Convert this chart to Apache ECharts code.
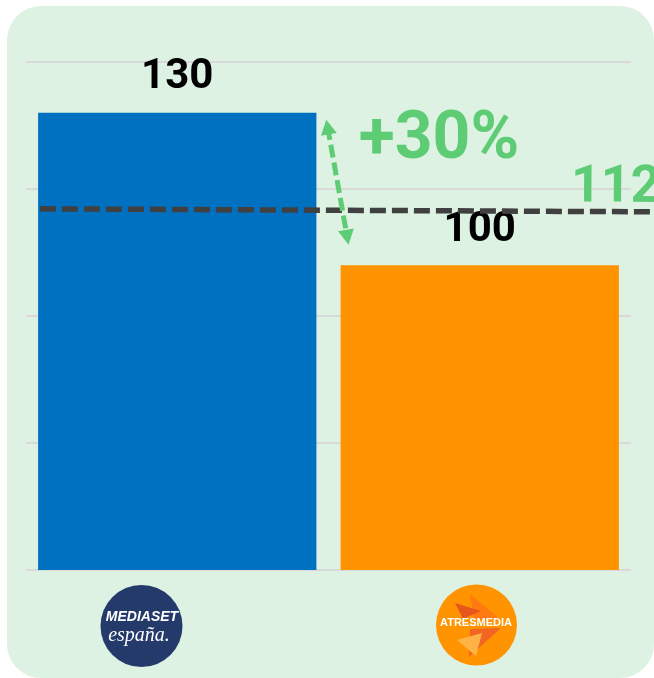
<!DOCTYPE html>
<html><head><meta charset="utf-8">
<script src="https://cdn.jsdelivr.net/npm/echarts@6/dist/echarts.min.js"></script>
<style>
html,body{margin:0;padding:0;background:#fff;width:654px;height:678px;overflow:hidden}
#bg{position:absolute;left:7px;top:6px;width:647px;height:672px;background:#ddf2e2;border-radius:34px}
#chart{position:absolute;left:0;top:0;width:654px;height:678px}
</style></head><body>
<div id="bg"></div><div id="chart"></div>
<script>
// ---- data ----
const categories = ['Mediaset España', 'Atresmedia'];
const values = [130, 100];
const barColors = ['#0070C0', '#FF9400'];
const refLabel = '112';
const refLineStart = [0.046, 111.1];   // helper value-x (category units), y value
const refLineEnd = [2.097, 110.5];
const arrowStart = [0.997, 127.2];
const arrowEnd = [1.062, 105.5];
const growthText = '+30%';
const yMin = 40, yMax = 140;
const gridTicks = [0, 25, 50, 75, 100];

const green = '#5DCC74';
const chart = echarts.init(document.getElementById('chart'), null, {renderer: 'canvas'});
// helper grid: same origin and scale as main grid, but extended past the right edge
const bandPx = (654 - 26 - 23) / 2;
const helperMax = 2.25;
const option = {
  animation: false,
  backgroundColor: 'transparent',
  grid: [
    {left: 26, right: 23, top: 62, bottom: 108, outerBoundsMode: 'none'},
    {left: 26, width: bandPx * helperMax, top: 62, bottom: 108, outerBoundsMode: 'none', containLabel: false}
  ],
  xAxis: [
    {type: 'category', gridIndex: 0, data: categories, axisLine: {show: false}, axisTick: {show: false},
     axisLabel: {show: false}, splitLine: {show: false}},
    {type: 'value', gridIndex: 1, min: 0, max: helperMax, show: false}
  ],
  yAxis: [
    {type: 'value', gridIndex: 0, min: yMin, max: yMax, show: false},
    {type: 'value', gridIndex: 0, min: gridTicks[0], max: gridTicks[gridTicks.length - 1], interval: gridTicks[1] - gridTicks[0],
     axisLine: {show: false}, axisTick: {show: false}, axisLabel: {show: false},
     splitLine: {show: true, lineStyle: {color: '#d9d9d9', width: 2}}},
    {type: 'value', gridIndex: 1, min: yMin, max: yMax, show: false}
  ],
  series: [
    {
      type: 'bar', xAxisIndex: 0, yAxisIndex: 0, barWidth: '92%',
      data: values.map((v, i) => ({value: v, itemStyle: {color: barColors[i]}})),
      label: {show: true, position: 'top', distance: 14, color: '#000', fontSize: 42,
              fontWeight: 'bold', fontFamily: 'Roboto'}
    },
    {
      type: 'line', xAxisIndex: 1, yAxisIndex: 2, data: [], color: green, z: 5,
      markLine: {
        silent: true, animation: false,
        symbol: ['triangle', 'triangle'], symbolSize: [16, 15],
        data: [
          [
            {coord: refLineStart, symbol: 'none',
             lineStyle: {color: '#404040', width: 5.5, type: [16, 6]},
             label: {show: true, position: 'insideEndTop', formatter: refLabel, color: green,
                     fontSize: 52, fontWeight: 'bold', fontFamily: 'Roboto', distance: [0, -3]}},
            {coord: refLineEnd, symbol: 'none'}
          ],
          [
            {coord: arrowStart, symbol: 'triangle', itemStyle: {color: green},
             lineStyle: {color: green, width: 5, type: [13, 5]}, label: {show: false}},
            {coord: arrowEnd, symbol: 'triangle', itemStyle: {color: green}}
          ]
        ]
      }
    }
  ],
  graphic: [
    {type: 'text', x: 439, y: 141, style: {text: growthText, font: 'bold 66px Roboto', fill: green,
      textAlign: 'center', textVerticalAlign: 'middle'}},
    // Mediaset logo
    {type: 'circle', shape: {cx: 141.5, cy: 626, r: 41}, style: {fill: '#243A6B'}},
    {type: 'text', x: 142, y: 617, style: {text: 'MEDIASET', font: 'italic bold 14px "Liberation Sans"',
      fill: '#fff', textAlign: 'center', textVerticalAlign: 'middle'}},
    {type: 'text', x: 139, y: 636, style: {text: 'españa.', font: 'italic 20px "Liberation Serif"',
      fill: '#fff', textAlign: 'center', textVerticalAlign: 'middle'}},
    // Atresmedia logo
    {type: 'circle', shape: {cx: 476.5, cy: 625, r: 40.5}, style: {fill: '#FF9400'}},
    {type: 'polygon', shape: {points: [[470, 594], [501, 620], [474, 619]]}, style: {fill: '#FF7A10'}},
    {type: 'polygon', shape: {points: [[455, 603], [481, 611], [463, 619]]}, style: {fill: '#E9561B'}},
    {type: 'polygon', shape: {points: [[470, 629], [501, 628], [469, 657]]}, style: {fill: '#F26522'}},
    {type: 'polygon', shape: {points: [[457, 640], [482, 633], [476, 656]]}, style: {fill: '#FFB347'}},
    {type: 'text', x: 476, y: 623, style: {text: 'ATRESMEDIA', font: 'bold 11px "Liberation Sans"',
      fill: '#fff', textAlign: 'center', textVerticalAlign: 'middle'}}
  ]
};
chart.setOption(option);
</script>
</body></html>
